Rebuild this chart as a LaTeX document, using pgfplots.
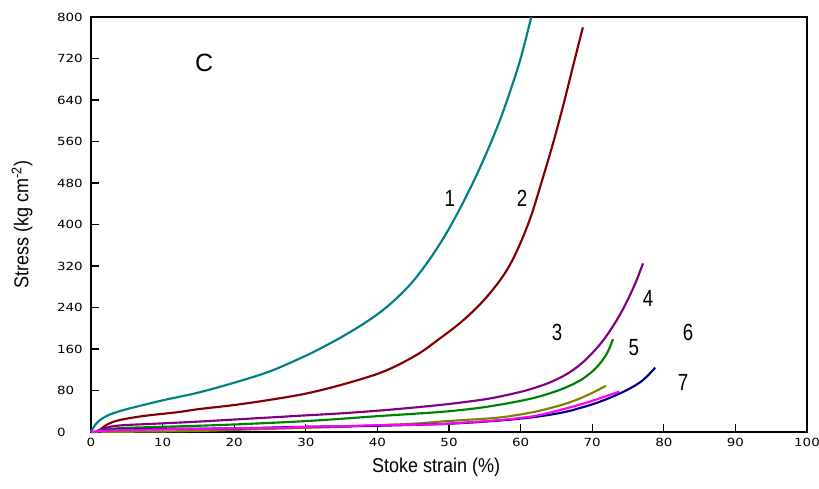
\documentclass[border=0pt]{standalone}
\usepackage{fontspec}
\setmainfont{Liberation Sans}
\newfontfamily\tickfont{DejaVu Sans}
\usepackage{pgfplots}
\pgfplotsset{compat=1.18}

\definecolor{c1}{RGB}{0,128,128}
\definecolor{c2}{RGB}{128,0,0}
\definecolor{c3}{RGB}{128,0,128}
\definecolor{c4}{RGB}{0,128,0}
\definecolor{c5}{RGB}{128,128,0}
\definecolor{c6}{RGB}{255,0,255}
\definecolor{c7}{RGB}{0,0,128}

\begin{document}
\begin{tikzpicture}
\begin{axis}[
  scale only axis,
  width=537pt, height=311.25pt,
  xmin=0, xmax=100, ymin=0, ymax=800,
  xtick distance=10, ytick distance=80,
  tick align=inside, xtick pos=bottom, ytick pos=left,
  major tick length=6pt,
  tick style={black, line width=0.8pt},
  axis line style={line width=0.8pt},
  xticklabel={\tickfont\fontsize{8.4}{9}\selectfont\scalebox{1.2}[1]{\pgfmathprintnumber[assume math mode=true]{\tick}}},
  yticklabel={\tickfont\fontsize{8.4}{9}\selectfont\scalebox{1.2}[1]{\pgfmathprintnumber[assume math mode=true]{\tick}}},
  xticklabel style={anchor=base, yshift=-11.25pt},
  yticklabel style={anchor=west, xshift=-29pt},
  xlabel={\scalebox{0.9}[1]{Stoke strain (\%)}},
  ylabel={\scalebox{0.9}[1]{Stress (kg cm\textsuperscript{-2})}},
  label style={font=\fontsize{15}{18}\selectfont},
  xlabel style={at={(rel axis cs:0.482,-0.0843)}, anchor=center},
  ylabel style={at={(rel axis cs:-0.0964,0.5)}, anchor=center},
  crv/.style={line width=1.6pt, smooth, tension=0.55, mark=none},
  clip=false,
]
\coordinate (bl) at (rel axis cs:0,0);
\coordinate (tr) at (rel axis cs:1,1);

% 1
\addplot[c1, crv] coordinates {
 (0,0) (0.5,12) (1,20) (1.7,27) (2.5,33) (3.5,38) (5,44) (7,51) (10,61)
 (15,76) (20,95) (25,117) (30,147) (33,168) (35,183) (38,208) (40.5,232)
 (42.7,258) (45,291) (47.3,333) (49.5,380) (51.5,430) (53.5,485) (55.3,540)
 (57,597) (58.5,655) (60,720) (61.5,800)
};
% 2
\addplot[c2, crv] coordinates {
 (1,0) (1.5,7) (2.2,14) (3,19) (4,23) (5.5,27) (8,32) (12,38) (15,44)
 (20,52) (25,62) (30,74) (35,91) (40,112) (43,130) (46,153) (48.7,180)
 (51,204) (53,228) (55,256) (57,290) (58.5,322) (60,365) (61.5,418)
 (63,485) (64.5,555) (66,632) (67.5,715) (68.7,780)
};
% 3 purple
\addplot[c3, crv] coordinates {
 (0.5,0) (1.2,4) (2.2,8.5) (3.3,11.5) (5,13.5) (9,16) (15,20) (20,24)
 (25,28) (30,32) (35,36) (40,41) (45,47) (50,54) (55,63) (58,71) (61,81)
 (64,95) (66.5,112) (68.5,132) (70,152) (71.5,176) (73,206) (74.5,242)
 (76,286) (77.1,325)
};
% green
\addplot[c4, crv] coordinates {
 (1,0) (2,4) (3.3,6.5) (5,8) (10,10) (15,12) (20,14.5) (25,17.5) (30,21)
 (35,25.5) (40,30.5) (45,35) (50,40) (55,48) (60,60) (63,70) (66,84)
 (68.5,101) (70.5,123) (72,150) (72.9,179)
};
% olive
\addplot[c5, crv] coordinates {
 (0,0) (5,0.5) (10,1) (15,2) (20,4) (25,6) (30,8) (35,10) (40,13) (45,16)
 (48.7,20) (52,23) (57.1,28) (62,39) (66.4,55) (69.5,72) (71.9,89)
};
% navy
\addplot[c7, crv] coordinates {
 (1,0) (3,4) (10,6) (20,7) (30,10) (40,12) (50,16) (57,22) (62,29) (66,38)
 (69,49) (71,58) (73,69) (75,82) (77,99) (78.8,124)
};
% magenta
\addplot[c6, crv] coordinates {
 (0,0) (3,3) (10,5) (20,7) (26.4,8) (30,10) (35,11) (40,13) (45,14) (48.7,15)
 (52,18) (57.1,23) (62,31) (66.4,45.6) (70,60) (73.8,78)
};

\node[font=\fontsize{18.75}{20}\selectfont] at (axis cs:15.8,711) {C};
\begin{scope}[every node/.style={font=\fontsize{17.5}{19}\selectfont}]
\node at (axis cs:50.1,451) {\scalebox{0.8}[1]{1}};
\node at (axis cs:60.2,451) {\scalebox{0.8}[1]{2}};
\node at (axis cs:65.1,191) {\scalebox{0.8}[1]{3}};
\node at (axis cs:77.8,258) {\scalebox{0.8}[1]{4}};
\node at (axis cs:75.8,162) {\scalebox{0.8}[1]{5}};
\node at (axis cs:83.4,191) {\scalebox{0.8}[1]{6}};
\node at (axis cs:82.7,96) {\scalebox{0.8}[1]{7}};
\end{scope}
\end{axis}
\pgfresetboundingbox
\path ([shift={(-68.25pt,-42.75pt)}]bl) rectangle ([shift={(9pt,12.75pt)}]tr);
\end{tikzpicture}
\end{document}
